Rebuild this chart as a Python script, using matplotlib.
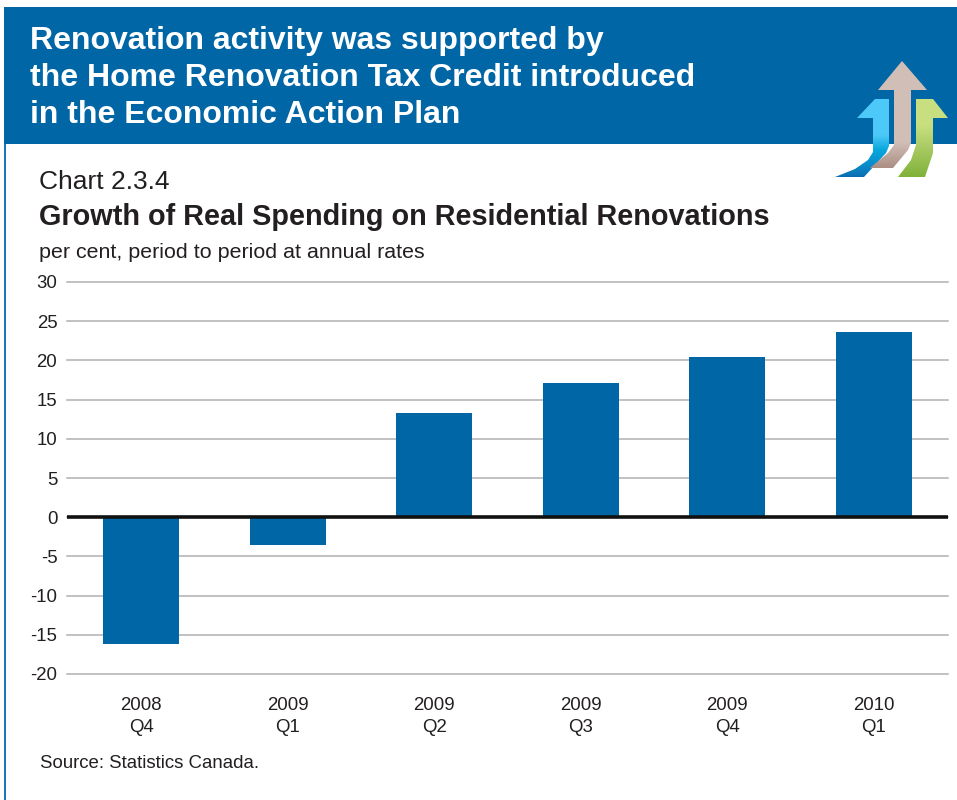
import matplotlib
matplotlib.use('Agg')
import matplotlib.pyplot as plt
from matplotlib.patches import Polygon, Rectangle
import numpy as np

plt.rcParams['font.family'] = ['Liberation Sans', 'DejaVu Sans']
plt.rcParams['axes.unicode_minus'] = False

W, H = 957, 800
BLUE = '#0066a6'
DARK = '#231f20'

years = ['2008', '2009', '2009', '2009', '2009', '2010']
quarters = ['Q4', 'Q1', 'Q2', 'Q3', 'Q4', 'Q1']
growth = [-16.2, -3.6, 13.3, 17.1, 20.4, 23.6]
y_ticks = [30, 25, 20, 15, 10, 5, 0, -5, -10, -15, -20]

title_lines = ['Renovation activity was supported by',
               'the Home Renovation Tax Credit introduced',
               'in the Economic Action Plan']

fig = plt.figure(figsize=(W / 100, H / 100), dpi=100)

# page layer in pixel coordinates, y going down
bg = fig.add_axes([0, 0, 1, 1])
bg.set_xlim(0, W)
bg.set_ylim(H, 0)
bg.axis('off')
bg.add_patch(Rectangle((4, 7), W - 4, 137, fc=BLUE, ec='none'))
bg.add_patch(Rectangle((4, 144), 1.5, H - 144, fc='#1b78b8', ec='none'))

for line, y in zip(title_lines, [41.5, 78.5, 115]):
    bg.text(30, y, line, color='white', fontsize=23, fontweight='bold', va='center', ha='left')

bg.text(39, 182, 'Chart 2.3.4', color=DARK, fontsize=19, va='center', ha='left')
bg.text(39, 217, 'Growth of Real Spending on Residential Renovations', color=DARK,
        fontsize=20.8, fontweight='bold', va='center', ha='left')
bg.text(39, 253, 'per cent, period to period at annual rates', color=DARK,
        fontsize=15.4, va='center', ha='left')
bg.text(40, 764, 'Source: Statistics Canada.', color=DARK, fontsize=13.4, va='center', ha='left')


def gradient_arrow(points, stops, colors):
    # vertical gradient clipped to the arrow outline
    pts = np.array(points, dtype=float)
    top, bottom = pts[:, 1].min(), pts[:, 1].max()
    ys = np.linspace(top, bottom, 128)
    rgb = np.array([matplotlib.colors.to_rgb(c) for c in colors])
    grad = np.stack([np.interp(ys, stops, rgb[:, i]) for i in range(3)], axis=1)[:, None, :]
    im = bg.imshow(grad, extent=(pts[:, 0].min(), pts[:, 0].max(), bottom, top),
                   aspect='auto', zorder=3)
    clip = Polygon(pts, closed=True, transform=bg.transData, fc='none', ec='none')
    bg.add_patch(clip)
    im.set_clip_path(clip)


gradient_arrow([(875, 99), (889, 99), (889, 146), (886, 153), (864, 177), (835, 177),
                (855, 169), (868, 160), (873, 152), (873, 118), (857, 118)],
               [99, 135, 150, 165, 177], ['#4dc9f9', '#4dc9f9', '#06a7dd', '#0a8ccb', '#0b6db3'])
gradient_arrow([(916, 99), (933, 99), (948, 118), (933, 118), (933, 153), (925, 177),
                (898, 177), (911, 160), (916, 145)],
               [99, 125, 150, 177], ['#c8df80', '#c8df80', '#a6c860', '#80b23a'])
gradient_arrow([(902, 61), (927, 90), (911, 90), (911, 143), (908, 150), (893, 168),
                (870, 168), (888, 153), (894, 145), (894, 90), (878, 90)],
               [61, 142, 168], ['#d1bfb7', '#d1bfb7', '#ac8f85'])
bg.set_xlim(0, W)
bg.set_ylim(H, 0)

# chart
ax = fig.add_axes([67 / W, 1 - 674 / H, (948 - 67) / W, (674 - 282) / H])
ax.patch.set_alpha(0)
x = np.arange(len(growth))
ax.bar(x, growth, width=0.52, color=BLUE, zorder=3)
ax.set_xlim(-0.505, 5.505)
ax.set_ylim(-20, 30)
ax.set_yticks(y_ticks)
ax.grid(axis='y', color='#b0b0b0', linewidth=1.1, zorder=0, clip_on=False)
ax.axhline(0, color='#111111', linewidth=2.6, zorder=4)
for s in ax.spines.values():
    s.set_visible(False)
ax.tick_params(axis='y', length=0, pad=7, labelsize=13.4, labelcolor=DARK)
ax.tick_params(axis='x', length=0, pad=16.5, labelsize=13.4, labelcolor=DARK)
ax.set_xticks(x)
ax.set_xticklabels([a + '\n' + b for a, b in zip(years, quarters)], linespacing=1.4)

fig.savefig('out.png', dpi=100)
